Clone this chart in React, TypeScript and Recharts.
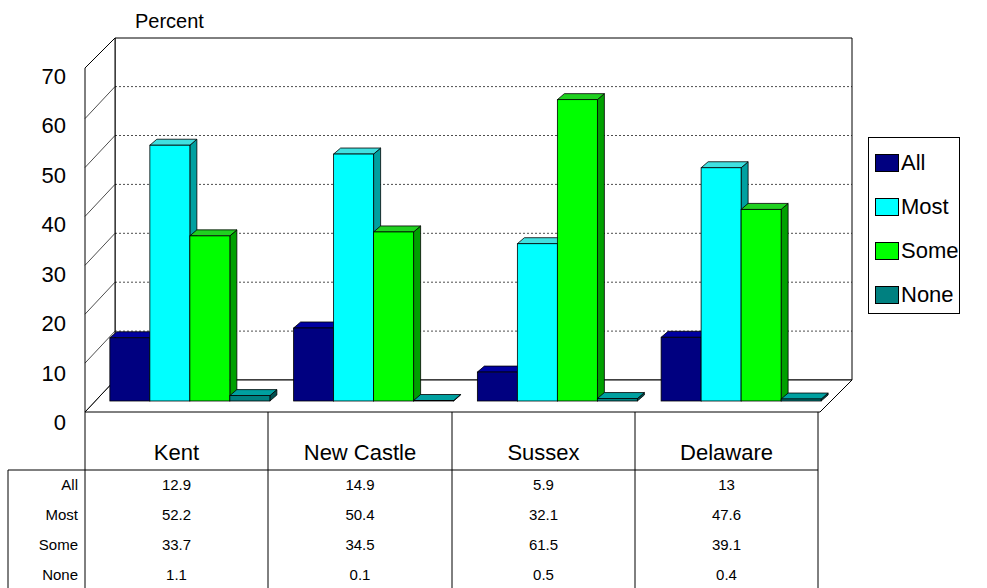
import { ComposedChart, Bar, XAxis, YAxis } from 'recharts';

const categories = ['Kent', 'New Castle', 'Sussex', 'Delaware'];
const allVals = [12.9, 14.9, 5.9, 13];
const mostVals = [52.2, 50.4, 32.1, 47.6];
const someVals = [33.7, 34.5, 61.5, 39.1];
const noneVals = [1.1, 0.1, 0.5, 0.4];
const yTicks = [0, 10, 20, 30, 40, 50, 60, 70];

const series = [
  { key: 'All', values: allVals, color: '#000080', side: '#000050', top: '#0000a0' },
  { key: 'Most', values: mostVals, color: '#00ffff', side: '#00a0a0', top: '#40e0e0' },
  { key: 'Some', values: someVals, color: '#00ff00', side: '#00a000', top: '#20d020' },
  { key: 'None', values: noneVals, color: '#008080', side: '#005050', top: '#00a0a0' },
];

const data = categories.map((c, i) => ({
  name: c,
  All: allVals[i],
  Most: mostVals[i],
  Some: someVals[i],
  None: noneVals[i],
}));

const font = 'Arial, "Liberation Sans", sans-serif';
const DX = 7;
const DY = -6;

function Bar3D(props: any) {
  const { x, y, width, height, fill, side, top } = props;
  if (width == null) return null;
  const h = Math.max(height, 0);
  return (
    <g stroke="#000" strokeWidth={0.8}>
      <polygon points={`${x + width},${y} ${x + width + DX},${y + DY} ${x + width + DX},${y + h + DY} ${x + width},${y + h}`} fill={side} />
      <polygon points={`${x},${y} ${x + DX},${y + DY} ${x + width + DX},${y + DY} ${x + width},${y}`} fill={top} />
      <rect x={x} y={y} width={width} height={h} fill={fill} />
    </g>
  );
}

const wallY = (v: number) => 380 - v * 4.89;

function Background() {
  return (
    <svg width={987} height={588} style={{ position: 'absolute', left: 0, top: 0 }}>
      <polygon points="115,38 852,38 852,380 115,380" fill="#fff" stroke="#000" />
      <polygon points="85,412 820,412 852,380 115,380" fill="#fff" stroke="#000" />
      <polygon points="85,68 115,38 115,380 85,412" fill="#fff" stroke="#000" />
      {yTicks.slice(1, -1).map((t) => (
        <g key={t}>
          <line x1={115} x2={852} y1={wallY(t)} y2={wallY(t)} stroke="#000" strokeDasharray="2 2" strokeWidth={0.7} />
          <line x1={85} x2={115} y1={wallY(t) + 32} y2={wallY(t)} stroke="#000" strokeWidth={0.7} />
        </g>
      ))}
      {yTicks.map((t) => (
        <text key={t} x={66} y={422 - t * 4.95 + 8} textAnchor="end" fontSize={22} fontFamily={font}>{t}</text>
      ))}
      <text x={135} y={28} fontSize={20} fontFamily={font}>Percent</text>
    </svg>
  );
}

function Table() {
  const cols = [85, 268, 452, 635, 818];
  const rows = series.map((s) => s.key);
  return (
    <svg width={987} height={588} style={{ position: 'absolute', left: 0, top: 0, pointerEvents: 'none' }}>
      {cols.map((x) => (
        <line key={x} x1={x} x2={x} y1={412} y2={588} stroke="#000" />
      ))}
      <line x1={8} x2={818} y1={470} y2={470} stroke="#000" />
      <line x1={8} x2={8} y1={470} y2={588} stroke="#000" />
      {categories.map((c, i) => (
        <text key={c} x={(cols[i] + cols[i + 1]) / 2} y={460} textAnchor="middle" fontSize={22} fontFamily={font}>{c}</text>
      ))}
      {rows.map((r, j) => (
        <g key={r}>
          <text x={78} y={490 + j * 30} textAnchor="end" fontSize={15} fontFamily={font}>{r}</text>
          {series[j].values.map((v, i) => (
            <text key={i} x={(cols[i] + cols[i + 1]) / 2} y={490 + j * 30} textAnchor="middle" fontSize={15} fontFamily={font}>{v}</text>
          ))}
        </g>
      ))}
    </svg>
  );
}

function Legend() {
  return (
    <div style={{ position: 'absolute', left: 868, top: 137, width: 90, height: 175, border: '1px solid #000', background: '#fff', fontFamily: font, fontSize: 22 }}>
      {series.map((s, i) => (
        <div key={s.key} style={{ position: 'absolute', left: 6, top: 12 + i * 44, display: 'flex', alignItems: 'center' }}>
          <span style={{ width: 22, height: 16, background: s.color, border: '1px solid #000', display: 'inline-block', marginRight: 2 }} />
          <span>{s.key}</span>
        </div>
      ))}
    </div>
  );
}

export default function App() {
  return (
    <div style={{ position: 'fixed', left: 0, top: 0, width: 987, height: 588, background: '#fff' }}>
      <Background />
      <div style={{ position: 'absolute', left: 0, top: 0 }}>
        <ComposedChart width={987} height={588} data={data} margin={{ top: 58, right: 155, left: 97, bottom: 187 }} barCategoryGap="7%" barGap={0}>
          <XAxis dataKey="name" hide />
          <YAxis domain={[0, 70]} ticks={yTicks} hide />
          {series.map((s) => (
            <Bar key={s.key} dataKey={s.key} fill={s.color} isAnimationActive={false}
              shape={(p: any) => <Bar3D {...p} side={s.side} top={s.top} />} />
          ))}
        </ComposedChart>
      </div>
      <Table />
      <Legend />
    </div>
  );
}
